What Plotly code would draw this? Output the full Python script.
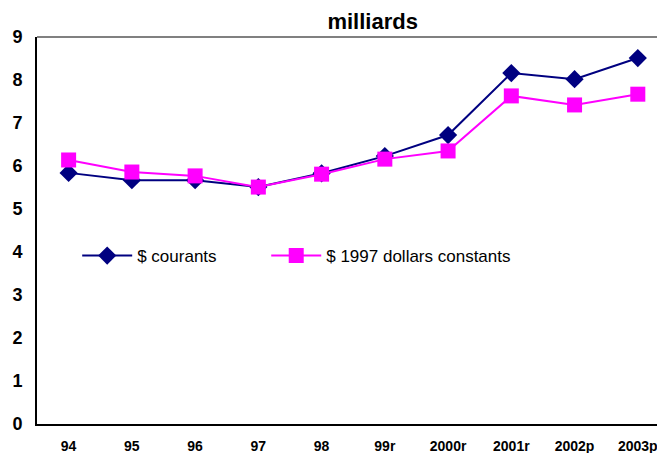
import plotly.graph_objects as go

years = ['94', '95', '96', '97', '98', '99r', '2000r', '2001r', '2002p', '2003p']
courants = [5.84, 5.67, 5.67, 5.51, 5.83, 6.23, 6.72, 8.16, 8.02, 8.51]
constants_1997 = [6.14, 5.86, 5.77, 5.51, 5.81, 6.16, 6.35, 7.63, 7.42, 7.67]
y_ticks = list(range(0, 10))

FONT = 'Liberation Sans, Arial'

fig = go.Figure()

fig.add_trace(go.Scatter(
    x=years, y=courants,
    mode='lines+markers',
    name='$ courants',
    legend='legend',
    showlegend=True,
    line=dict(color='#000080', width=2),
    marker=dict(symbol='diamond', size=14, color='#000080'),
))

fig.add_trace(go.Scatter(
    x=years, y=constants_1997,
    mode='lines+markers',
    name='$ 1997 dollars constants',
    legend='legend2',
    showlegend=True,
    line=dict(color='#ff00ff', width=2),
    marker=dict(symbol='square', size=15, color='#ff00ff'),
))

# plot area continues past the right edge of the picture
fig.add_shape(type='line', xref='paper', yref='paper', x0=0, x1=1, y0=1, y1=1,
              line=dict(color='#808080', width=2))

legend_common = {
    'orientation': 'h',
    'y': 0.434,
    'xanchor': 'left',
    'yanchor': 'middle',
    'font': {'size': 17, 'color': '#000000', 'family': FONT},
    'bgcolor': 'rgba(0,0,0,0)',
    'itemwidth': 50,
}

# page body has an 8px margin, so the figure is sized to fill the rest
fig.update_layout(
    width=657,
    height=445,
    showlegend=True,
    title={
        'text': '<b>milliards</b>',
        'font': {'size': 22, 'color': '#000000', 'family': FONT},
        'x': 0.555,
        'xanchor': 'center',
        'y': 0.971,
        'yanchor': 'middle',
    },
    xaxis={
        'type': 'category',
        'range': [-0.5, 9.43],
        'showgrid': False,
        'showline': True,
        'linecolor': '#000000',
        'linewidth': 2,
        'ticks': '',
        'tickfont': {'size': 14, 'color': '#000000', 'family': FONT},
        'ticklabelstandoff': 8,
    },
    yaxis={
        'range': [0, 9],
        'tickvals': y_ticks,
        'showgrid': False,
        'zeroline': False,
        'showline': True,
        'linecolor': '#000000',
        'linewidth': 2,
        'ticks': '',
        'tickfont': {'size': 18, 'color': '#000000', 'family': FONT},
        'ticklabelstandoff': 9,
    },
    legend=dict(legend_common, x=0.064),
    legend2=dict(legend_common, x=0.365),
    margin=dict(l=29, r=0, t=29, b=29),
    paper_bgcolor='#ffffff',
    plot_bgcolor='#ffffff',
    font={'family': FONT},
)

# bold tick labels
fig.update_xaxes(ticktext=[f'<b>{y}</b>' for y in years], tickvals=years)
fig.update_yaxes(ticktext=[f'<b>{v}</b>' for v in y_ticks])

fig.write_html('out.html')
